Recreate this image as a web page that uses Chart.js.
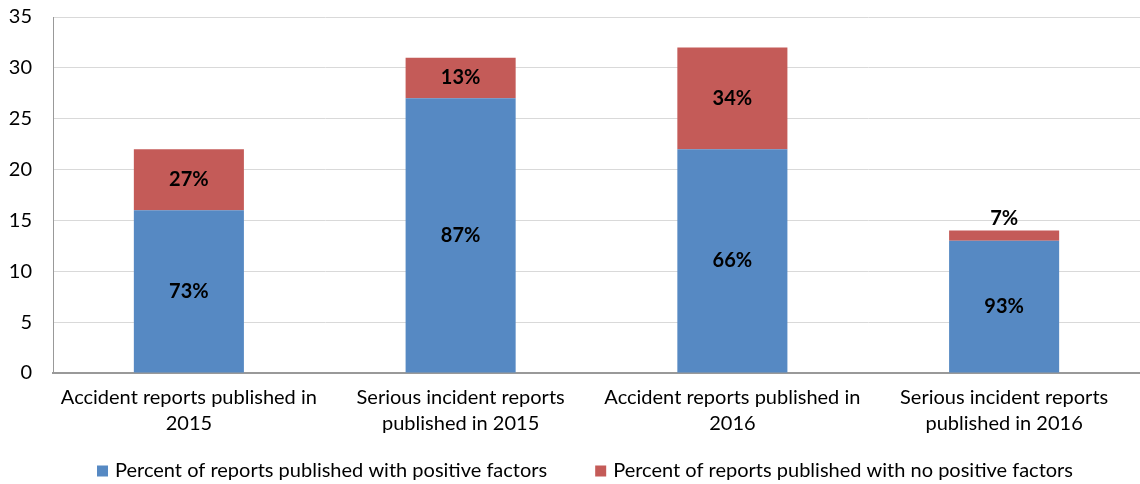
<!DOCTYPE html>
<html>
<head>
<meta charset="utf-8">
<script src="https://cdn.jsdelivr.net/npm/chart.js@4.4.0/dist/chart.umd.min.js"></script>
<style>
  html, body { margin: 0; padding: 0; background: #fff; }
  #wrap { width: 1140px; height: 484px; position: relative; }
</style>
</head>
<body>
<div id="wrap"><canvas id="chart"></canvas></div>
<script>
// categories and values
const categorias = [
  ["Accident reports published in", "2015"],
  ["Serious incident reports", "published in 2015"],
  ["Accident reports published in", "2016"],
  ["Serious incident reports", "published in 2016"]
];
const conFactores = [16, 27, 22, 13];
const sinFactores = [6, 4, 10, 1];
const pctConFactores = ["73%", "87%", "66%", "93%"];
const pctSinFactores = ["27%", "13%", "34%", "7%"];
const ticksY = [0, 5, 10, 15, 20, 25, 30, 35];

const FUENTE = "Lato, 'Open Sans', sans-serif";

// etiquetas dentro de cada segmento (o encima si no cabe)
const etiquetasBarras = {
  id: "etiquetasBarras",
  afterDatasetsDraw(chart) {
    const ctx = chart.ctx;
    ctx.save();
    ctx.font = "bold 20px " + FUENTE;
    ctx.fillStyle = "#000";
    ctx.textAlign = "center";
    ctx.textBaseline = "middle";
    const textos = [pctConFactores, pctSinFactores];
    chart.data.datasets.forEach((ds, i) => {
      const meta = chart.getDatasetMeta(i);
      meta.data.forEach((bar, j) => {
        const alto = bar.base - bar.y;
        let y = bar.y + alto / 2;
        if (alto < 22) y = bar.y - 12;
        ctx.fillText(textos[i][j], bar.x, y);
      });
    });
    ctx.restore();
  }
};

// leyenda abajo, dibujada a mano para controlar los huecos
const leyendaAbajo = {
  id: "leyendaAbajo",
  afterDraw(chart) {
    const ctx = chart.ctx;
    const caja = 11, hueco = 7, separacion = 48;
    const y = chart.height - 13;
    ctx.save();
    ctx.font = "20px " + FUENTE;
    ctx.textBaseline = "middle";
    const items = chart.data.datasets.map(ds => ({
      texto: ds.label,
      color: ds.backgroundColor,
      ancho: caja + hueco + ctx.measureText(ds.label).width
    }));
    const total = items.reduce((s, it) => s + it.ancho, 0) + separacion * (items.length - 1);
    let x = 585 - total / 2;
    items.forEach(it => {
      ctx.fillStyle = it.color;
      ctx.fillRect(x, y - caja / 2, caja, caja);
      ctx.fillStyle = "#000";
      ctx.fillText(it.texto, x + caja + hueco, y);
      x += it.ancho + separacion;
    });
    ctx.restore();
  }
};

document.addEventListener("DOMContentLoaded", () => {
  const ctx = document.getElementById("chart");
  new Chart(ctx, {
    type: "bar",
    data: {
      labels: categorias,
      datasets: [
        {
          label: "Percent of reports published with positive factors",
          data: conFactores,
          backgroundColor: "#5689C3",
          barPercentage: 0.81,
          categoryPercentage: 0.5
        },
        {
          label: "Percent of reports published with no positive factors",
          data: sinFactores,
          backgroundColor: "#C45B58",
          barPercentage: 0.81,
          categoryPercentage: 0.5
        }
      ]
    },
    options: {
      responsive: true,
      maintainAspectRatio: false,
      animation: false,
      layout: { padding: { top: 0, right: 0, left: 0, bottom: 41 } },
      plugins: {
        legend: { display: false },
        tooltip: { enabled: false }
      },
      scales: {
        x: {
          stacked: true,
          grid: { display: false, drawTicks: false },
          border: { color: "#999", width: 2 },
          afterFit: (axis) => { axis.height = 70; },
          ticks: {
            font: { family: FUENTE, size: 20, lineHeight: 1.3 },
            color: "#000",
            padding: 12,
            maxRotation: 0
          }
        },
        y: {
          stacked: true,
          min: 0,
          max: 35,
          afterBuildTicks: (axis) => { axis.ticks = ticksY.map(v => ({ value: v })); },
          afterFit: (axis) => { axis.width = 53; },
          grid: { color: "#d9d9d9", lineWidth: 1, drawTicks: true, tickLength: 16, tickColor: "rgba(0,0,0,0)" },
          border: { color: "#999", width: 1 },
          ticks: {
            font: { family: FUENTE, size: 20 },
            color: "#000",
            padding: 5
          }
        }
      }
    },
    plugins: [etiquetasBarras, leyendaAbajo]
  });
});
</script>
</body>
</html>
